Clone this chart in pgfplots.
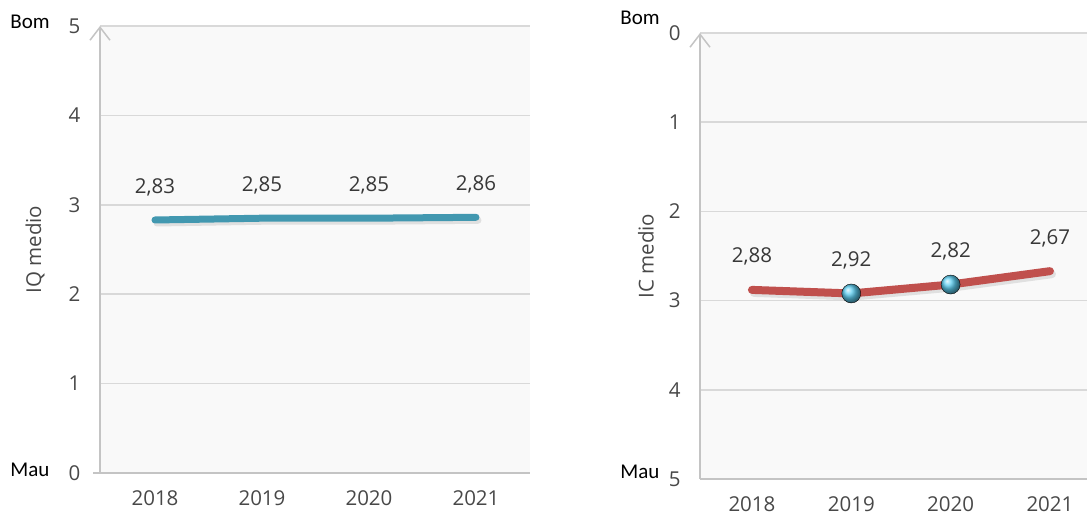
\documentclass[border=0pt]{standalone}
\usepackage{pgfplots}
\pgfplotsset{compat=1.18}
\usepackage{fontspec}
\setmainfont{Open Sans}
\newfontfamily\carlito{Carlito}
\usetikzlibrary{arrows.meta}
\definecolor{tickc}{HTML}{484848}
\definecolor{gridc}{HTML}{D9D9D9}
\definecolor{axc}{HTML}{C4C4C4}
\definecolor{bgc}{HTML}{F9F9F9}
\definecolor{teal1}{HTML}{4298B0}
\definecolor{red1}{HTML}{C0504D}
\definecolor{ball1}{HTML}{5CCDF0}
\pgfplotsset{
  common/.style={
    scale only axis,
    anchor=south west,
    ymin=0, ymax=5,
    ytick={0,1,2,3,4,5},
    xtick={0,1,2,3},
    xticklabels={2018,2019,2020,2021},
    major tick length=0pt,
    ymajorgrids,
    grid style={gridc, line width=1.5pt},
    axis background/.style={fill=bgc},
    axis line style={draw=none},
    tick label style={font=\fontsize{20.5}{24}\selectfont, text=tickc},
    /pgf/number format/assume math mode=true,
    yticklabel style={xshift=-16pt},
    xticklabel style={yshift=-14pt},
    label style={font=\fontsize{20.5}{24}\selectfont, text=tickc},
    nodes near coords,
    point meta=explicit symbolic,
    every node near coord/.append style={anchor=center, yshift=33pt, font=\fontsize{20.5}{24}\selectfont, text=black!78},
    clip=false,
  }
}
\begin{document}
\begin{tikzpicture}
\useasboundingbox (0,0) rectangle (1087pt,518pt);
% left panel
\begin{axis}[common,
  at={(100pt,45pt)}, width=430pt, height=447pt,
  xmin=-0.514, xmax=3.505,
  ylabel={IQ medio},
  ylabel style={at={(axis description cs:-0.151,0.5)}, anchor=center},
]
\draw[axc, line width=2.5pt] ([xshift=-7pt]rel axis cs:0,0) -- (rel axis cs:1,0);
\draw[axc, line width=1.5pt, -{Straight Barb[length=13pt,width=20pt,line width=1.5pt]}] (rel axis cs:0,0) -- (rel axis cs:0,1);
\addplot[black!30, line width=7pt, line cap=round, opacity=0.35, shift={(2pt,-3pt)}, nodes near coords={}] coordinates {(0,2.83) (1,2.85) (2,2.85) (3,2.86)};
\addplot[teal1, line width=7pt, line cap=round] coordinates {(0,2.83) [2,83] (1,2.85) [2,85] (2,2.85) [2,85] (3,2.86) [2,86]};
\end{axis}
% right panel
\begin{axis}[common,
  at={(700pt,39pt)}, width=387pt, height=446pt,
  xmin=-0.523, xmax=3.373,
  y dir=reverse,
  ylabel={IC medio},
  ylabel style={at={(axis description cs:-0.140,0.5)}, anchor=center},
]
\draw[axc, line width=2.5pt] (rel axis cs:0,0) -- (rel axis cs:1,0);
\draw[axc, line width=1.5pt, -{Straight Barb[length=13pt,width=20pt,line width=1.5pt]}] (rel axis cs:0,0) -- (rel axis cs:0,1);
\addplot[black!30, line width=8pt, line cap=round, opacity=0.35, shift={(2pt,-3pt)}, nodes near coords={}] coordinates {(0,2.88) (1,2.92) (2,2.82) (3,2.67)};
\addplot[red1, line width=8pt, line cap=round] coordinates {(0,2.88) [2,88] (1,2.92) [2,92] (2,2.82) [2,82] (3,2.67) [2,67]};
\addplot[only marks, mark=ball, mark size=9.5pt, nodes near coords={}, mark options={ball color=ball1}] coordinates {(1,2.92) (2,2.82)};
\end{axis}
\node[font=\carlito\fontsize{21}{24}\selectfont, text=black] at (30pt,496pt) {Bom};
\node[font=\carlito\fontsize{21}{24}\selectfont, text=black] at (30pt,48pt) {Mau};
\node[font=\carlito\fontsize{21}{24}\selectfont, text=black] at (640pt,500pt) {Bom};
\node[font=\carlito\fontsize{21}{24}\selectfont, text=black] at (640pt,46pt) {Mau};
\end{tikzpicture}
\end{document}
